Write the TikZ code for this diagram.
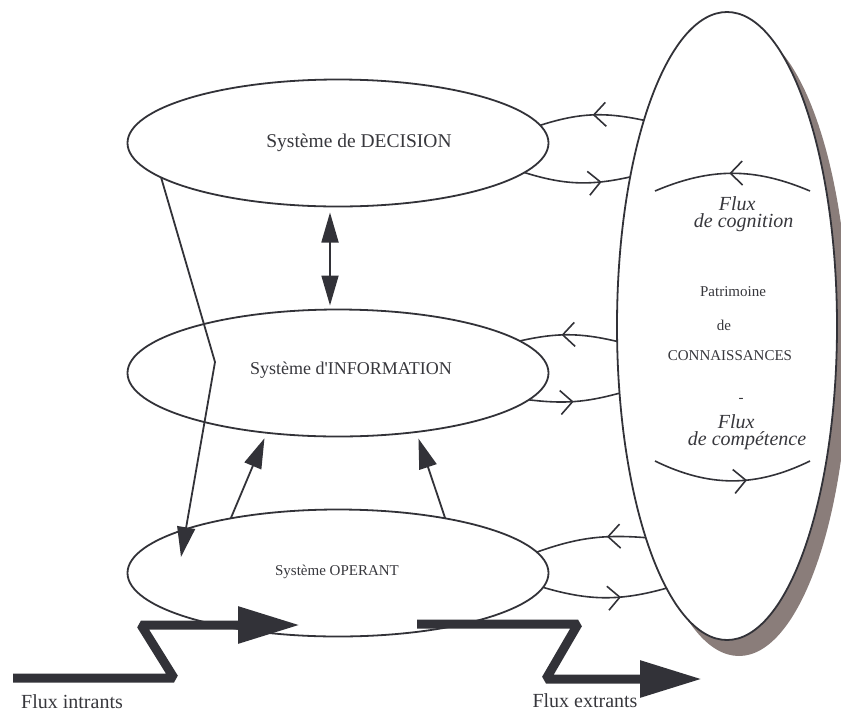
\documentclass[tikz,border=0pt]{standalone}
\usepackage{fontspec}
\setmainfont{Liberation Serif}
\usetikzlibrary{shapes,arrows.meta,decorations.markings,shadows}

\definecolor{trait}{RGB}{50,50,56}
\definecolor{ombre}{RGB}{138,125,122}
\definecolor{texte}{RGB}{55,55,60}

\begin{document}
\begin{tikzpicture}[x=1pt,y=-1pt,line width=1.8pt,color=trait,
	flux/.style={line width=1.6pt,postaction={decorate},decoration={markings,mark=at position #1 with {\arrow{Straight Barb[length=12pt,width=24pt]}}}}]
		\tikzstyle{sys}=[draw,shape=ellipse,minimum width=421pt,minimum height=127pt,inner sep=0pt,outer sep=0pt]
		\tikzstyle{lbl}=[text=texte,inner sep=0pt]
		\tikzstyle{fleche}=[-{Triangle[length=30pt,width=18pt]}]
		\tikzstyle{gros}=[line width=9pt,line join=bevel,-{Triangle[length=62pt,width=35pt]}]

		\useasboundingbox (0,0) rectangle (841,713);

		\node[draw,fill=white,shape=ellipse,minimum width=220pt,minimum height=628pt,inner sep=0pt,outer sep=0pt,
			drop shadow={shadow xshift=12pt,shadow yshift=-16pt,fill=ombre,opacity=1}](patr) at (727,326){};

		\node[sys](dec) at (338,143){};
		\node[sys](info) at (338,373){};
		\node[sys](oper) at (338,573){};

		\node[lbl,font=\fontsize{19.5}{22}\selectfont](decT) at (359,143){Système de DECISION};
		\node[lbl,font=\fontsize{18}{21}\selectfont](infoT) at (351,370){Système d\textquotesingle INFORMATION};
		\node[lbl,font=\fontsize{15}{18}\selectfont](operT) at (337,572){Système OPERANT};

		\node[lbl,font=\fontsize{15}{18}\selectfont](pat1) at (733,292){Patrimoine};
		\node[lbl,font=\fontsize{15}{18}\selectfont](pat2) at (724,325){de};
		\node[lbl,font=\fontsize{15}{18}\selectfont](pat3) at (730,356){CONNAISSANCES};
		\node[lbl,font=\fontsize{15}{18}\selectfont](tiret) at (741,400){-};

		\node[lbl,font=\fontsize{20}{17}\selectfont\itshape,align=left,anchor=west](cog) at (693,214){\hspace*{25pt}Flux\\de cognition};
		\node[lbl,font=\fontsize{20}{17}\selectfont\itshape,align=left,anchor=west](comp) at (687,432){\hspace*{30pt}Flux\\de compétence};

		\node[lbl,font=\fontsize{20}{22}\selectfont](fin) at (72,702){Flux intrants};
		\node[lbl,font=\fontsize{20}{22}\selectfont](fout) at (585,701){Flux extrants};

		\draw[flux=0.49] (patr.112.5) to[bend right=15] (dec.5.8);
		\draw[flux=0.73] (dec.-9) to[bend right=15] (patr.123.4);
		\draw[flux=0.57] (patr.188.9) to[bend right=13] (info.10.4);
		\draw[flux=0.49] (info.-8) to[bend right=11] (patr.212.4);
		\draw[flux=0.35] (patr.249) to[bend right=12] (oper.6.1);
		\draw[flux=0.63] (oper.-4.8) to[bend right=16] (patr.257.5);

		\coordinate (c1) at (810,191);
		\coordinate (c2) at (655,191);
		\coordinate (k1) at (655,461);
		\coordinate (k2) at (810,461);
		\draw[flux=0.52] (c1) to[bend right=23] (c2);
		\draw[flux=0.59] (k1) to[bend right=26] (k2);

		\draw[{Triangle[length=30pt,width=17pt]}-{Triangle[length=30pt,width=17pt]}] ([xshift=-8pt,yshift=-6pt]dec.south) -- ([xshift=-8pt,yshift=4pt]info.north);
		\draw[fleche,shorten >=6pt] (oper.153.6) -- (info.220.2);
		\draw[fleche,shorten >=7pt] (oper.27.2) -- (info.323.3);

		\coordinate (coude) at (215,362);
		\coordinate (bout) at (181,557);
		\draw[fleche] (dec.191.1) -- (coude) -- (bout);

		\coordinate (in0) at (13,678);
		\coordinate (in1) at (174,678);
		\coordinate (in2) at (141,625);
		\coordinate (in3) at (300,625);
		\draw[gros] (in0) -- (in1) -- (in2) -- (in3);

		\coordinate (out0) at (417,624);
		\coordinate (out1) at (578,624);
		\coordinate (out2) at (546,679);
		\coordinate (out3) at (702,679);
		\draw[gros] (out0) -- (out1) -- (out2) -- (out3);
	\end{tikzpicture}
\end{document}
